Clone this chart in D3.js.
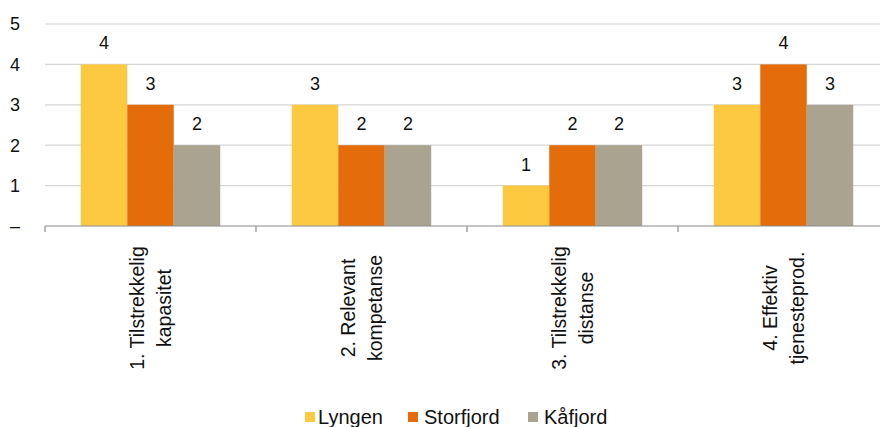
<!DOCTYPE html>
<html>
<head>
<meta charset="utf-8">
<script src="https://cdn.jsdelivr.net/npm/d3@7/dist/d3.min.js"></script>
<style>
  html, body { margin: 0; padding: 0; background: #fff; }
  svg { display: block; font-family: "Liberation Sans", Arial, sans-serif; }
</style>
</head>
<body>
<svg id="chart" width="880" height="427"></svg>
<script>
// Categories (two-line labels) and series values
const categories = ["1. Tilstrekkelig kapasitet", "2. Relevant kompetanse", "3. Tilstrekkelig distanse", "4. Effektiv tjenesteprod."];
const categoryLines = [["1. Tilstrekkelig", "kapasitet"], ["2. Relevant", "kompetanse"], ["3. Tilstrekkelig", "distanse"], ["4. Effektiv", "tjenesteprod."]];
const seriesNames = ["Lyngen", "Storfjord", "Kåfjord"];
const lyngen = [4, 3, 1, 3];
const storfjord = [3, 2, 2, 4];
const kafjord = [2, 2, 2, 3];
const yTicks = [0, 1, 2, 3, 4, 5];
const yTickLabels = ["–", "1", "2", "3", "4", "5"];
const colors = ["#FDC941", "#E46C0A", "#A9A390"];

const seriesValues = [lyngen, storfjord, kafjord];

const svg = d3.select("#chart");

const x0 = d3.scaleBand().domain(categories).range([45, 889]).paddingInner(0).paddingOuter(0);
const x1 = d3.scaleBand().domain(seriesNames).range([0, x0.bandwidth()]).paddingInner(0).paddingOuter(0.77);
const y = d3.scaleLinear().domain([0, 5]).range([226, 24]);
const color = d3.scaleOrdinal().domain(seriesNames).range(colors);

// Gridlines
svg.append("g")
  .selectAll("line")
  .data(yTicks.filter(d => d > 0))
  .join("line")
  .attr("x1", 45).attr("x2", 880)
  .attr("y1", d => y(d)).attr("y2", d => y(d))
  .attr("stroke", "#d6d6d6").attr("stroke-width", 1.2);

// Y tick labels
svg.append("g")
  .selectAll("text")
  .data(yTicks)
  .join("text")
  .attr("x", 20)
  .attr("y", d => y(d))
  .attr("dy", "0.35em")
  .attr("text-anchor", "end")
  .attr("font-size", 18)
  .attr("fill", "#111")
  .text((d, i) => yTickLabels[i]);

// Bars
const groups = svg.append("g")
  .selectAll("g")
  .data(categories)
  .join("g")
  .attr("transform", d => `translate(${x0(d)},0)`);

groups.selectAll("rect")
  .data((d, ci) => seriesNames.map((s, si) => ({ s, v: seriesValues[si][ci] })))
  .join("rect")
  .attr("x", d => x1(d.s))
  .attr("y", d => y(d.v))
  .attr("width", x1.bandwidth())
  .attr("height", d => y(0) - y(d.v))
  .attr("fill", d => color(d.s));

// Value labels
groups.selectAll("text.val")
  .data((d, ci) => seriesNames.map((s, si) => ({ s, v: seriesValues[si][ci] })))
  .join("text")
  .attr("class", "val")
  .attr("x", d => x1(d.s) + x1.bandwidth() / 2)
  .attr("y", d => y(d.v) - 15)
  .attr("text-anchor", "middle")
  .attr("font-size", 18)
  .attr("fill", "#111")
  .text(d => d.v);

// X axis line and ticks
const axis = svg.append("g");
axis.append("line")
  .attr("x1", 45).attr("x2", 880)
  .attr("y1", y(0)).attr("y2", y(0))
  .attr("stroke", "#8c8c8c").attr("stroke-width", 1.2);
const boundaries = categories.map(c => x0(c)).concat([x0.range()[1]]);
axis.selectAll("line.tick")
  .data(boundaries)
  .join("line")
  .attr("class", "tick")
  .attr("x1", d => d).attr("x2", d => d)
  .attr("y1", y(0)).attr("y2", y(0) + 6)
  .attr("stroke", "#8c8c8c").attr("stroke-width", 1.2);

// Rotated category labels
categories.forEach((c, ci) => {
  const cx = x0(c) + x0.bandwidth() / 2;
  const lines = categoryLines[ci];
  lines.forEach((line, li) => {
    const off = (li - (lines.length - 1) / 2) * 27;
    svg.append("text")
      .attr("transform", `translate(${cx + off},308) rotate(-90)`)
      .attr("text-anchor", "middle")
      .attr("dy", "0.35em")
      .attr("font-size", 19.5)
      .attr("fill", "#111")
      .text(line);
  });
});

// Legend
const legendItems = [
  { name: seriesNames[0], sx: 305, tx: 318 },
  { name: seriesNames[1], sx: 408, tx: 424 },
  { name: seriesNames[2], sx: 528, tx: 544 }
];
const legend = svg.append("g");
legend.selectAll("rect")
  .data(legendItems)
  .join("rect")
  .attr("x", d => d.sx).attr("y", 412)
  .attr("width", 10).attr("height", 10)
  .attr("fill", d => color(d.name));
legend.selectAll("text")
  .data(legendItems)
  .join("text")
  .attr("x", d => d.tx).attr("y", 417)
  .attr("dy", "0.35em")
  .attr("font-size", 20)
  .attr("fill", "#111")
  .text(d => d.name);
</script>
</body>
</html>
